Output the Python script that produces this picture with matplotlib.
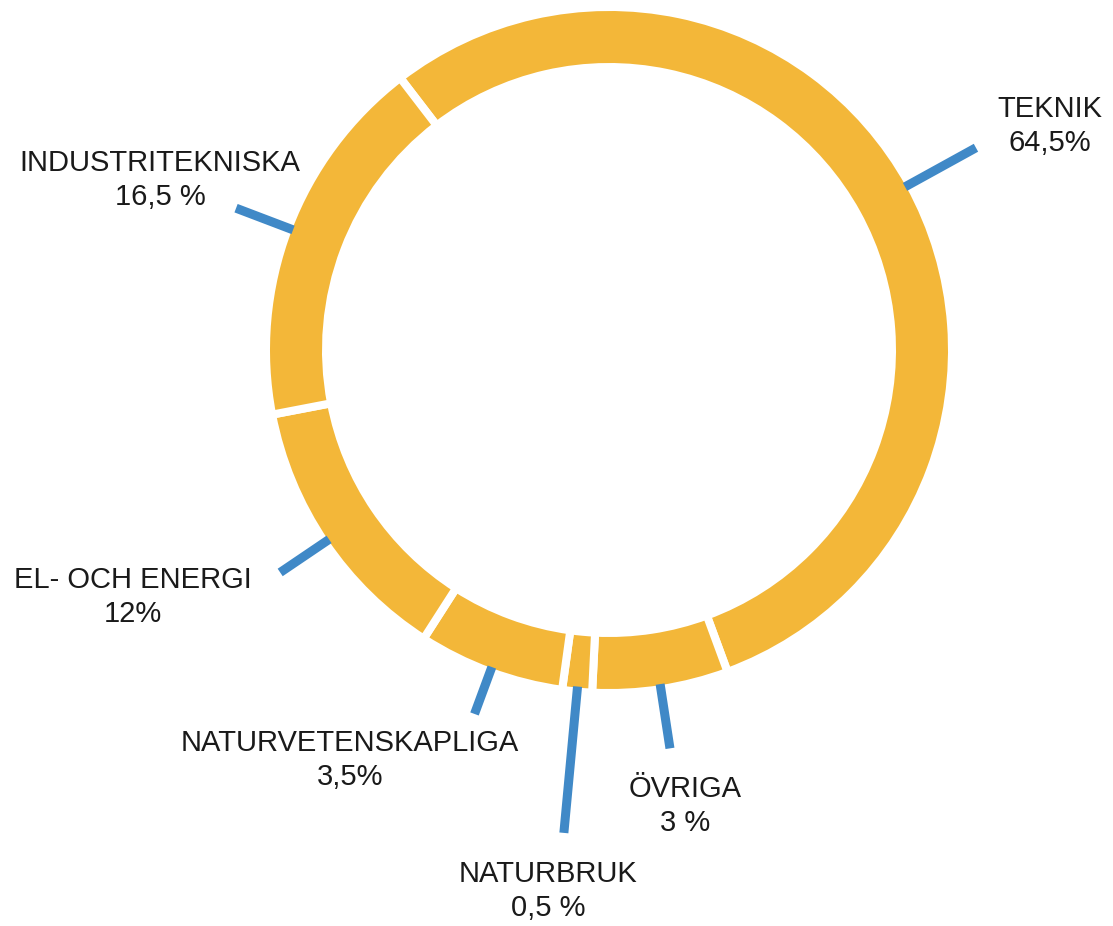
import numpy as np
import matplotlib.pyplot as plt

# segment sizes as drawn in the picture (labels carry the printed percentages)
names = ["TEKNIK", "ÖVRIGA", "NATURBRUK", "NATURVETENSKAPLIGA",
         "EL- OCH ENERGI", "INDUSTRITEKNISKA"]
shares = ["64,5%", "3 %", "0,5 %", "3,5%", "12%", "16,5 %"]
sizes = [54.8, 6.4, 1.4, 6.9, 12.9, 17.6]

# layout (pixels, image coords: y down)
W, H = 1113, 926
cx, cy = 609, 350
R = 339
ring = 52
leader_len = [419, 403, 485, 388, 397, 399]
label_xy = [(1050, 126), (685, 806), (548, 891), (350, 760), (133, 597), (160, 180)]

orange = "#F3B739"
blue = "#4089C7"
gap = 5.8  # points

plt.rcParams['font.family'] = ['Liberation Sans', 'DejaVu Sans']

fig = plt.figure(figsize=(W / 100, H / 100), dpi=100)
ax = fig.add_axes([0, 0, 1, 1])

pad = gap / 0.72 / 2
wedges, _ = ax.pie(sizes, center=(cx, H - cy), radius=R + pad, startangle=127.5,
                   counterclock=False, colors=[orange] * len(sizes),
                   wedgeprops=dict(width=ring + 2 * pad, edgecolor='white', linewidth=gap))
ax.set_xlim(0, W)
ax.set_ylim(0, H)
ax.set_aspect('equal')
ax.axis('off')

for w, L, (tx, ty), n, s in zip(wedges, leader_len, label_xy, names, shares):
    th = np.deg2rad((w.theta1 + w.theta2) / 2)
    ax.plot([cx + (R - 1) * np.cos(th), cx + L * np.cos(th)],
            [H - cy + (R - 1) * np.sin(th), H - cy + L * np.sin(th)],
            color=blue, lw=6.5, solid_capstyle='butt', zorder=3)
    ax.text(tx, H - ty, n + "\n" + s, ha='center', va='center', fontsize=21,
            linespacing=1.25, color='#1a1a1a')

fig.savefig("out.png", dpi=100)
